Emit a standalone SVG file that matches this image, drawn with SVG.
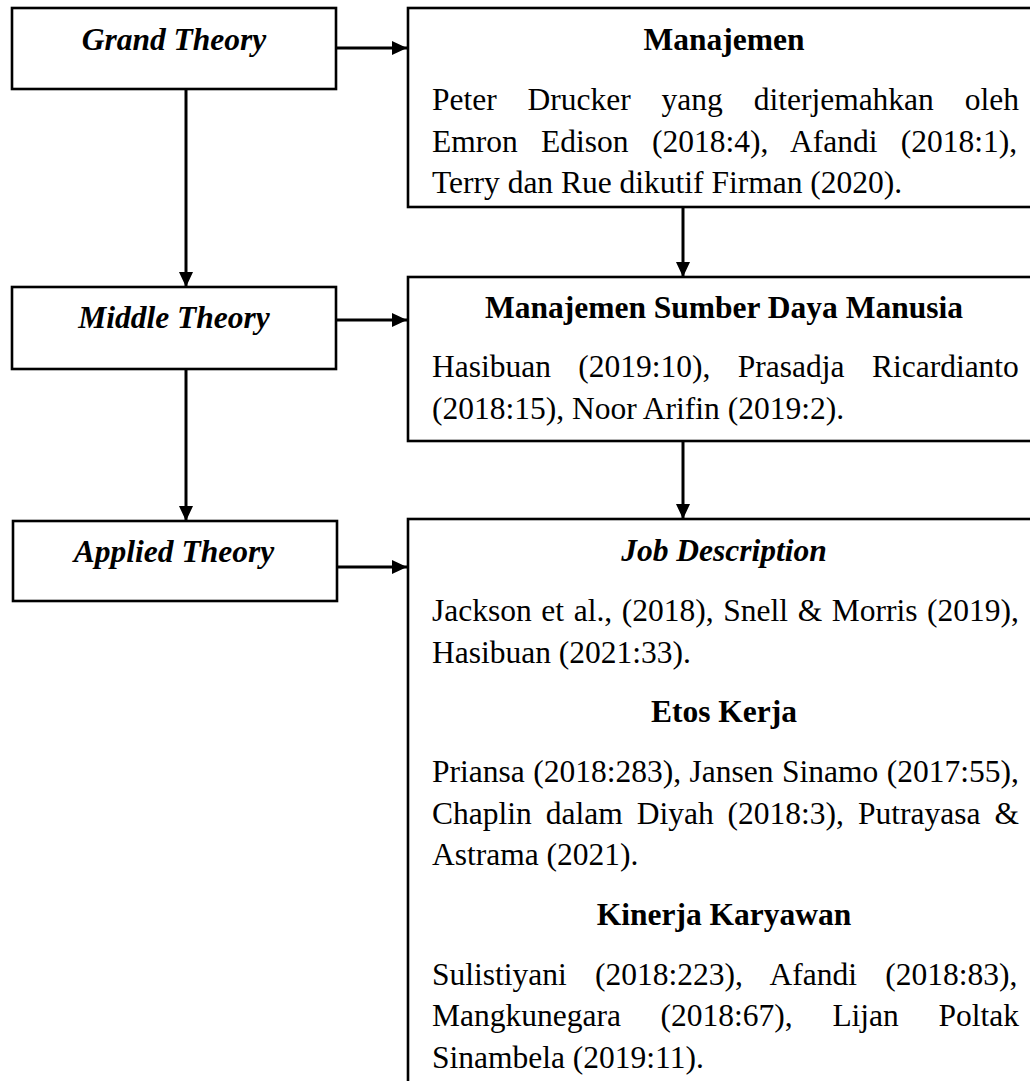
<svg xmlns="http://www.w3.org/2000/svg" width="1030" height="1081" viewBox="0 0 1030 1081">
<style>
.box{fill:#fff;stroke:#000;stroke-width:2.6}
.conn{stroke:#000;stroke-width:3;fill:none}
text{font-family:"Liberation Serif","Times New Roman",serif;font-size:31.5px;fill:#000}
.t{font-weight:bold;text-anchor:middle}
.ti{font-weight:bold;font-style:italic;text-anchor:middle}
</style>
<defs>
<marker id="ah" markerUnits="userSpaceOnUse" markerWidth="15" markerHeight="14" refX="15" refY="7" orient="auto">
<path d="M0,0 L15,7 L0,14 Z" fill="#000"/>
</marker>
</defs>
<rect width="1030" height="1081" fill="#fff"/>
<g id="connectors">
<line class="conn" x1="336" y1="48" x2="407" y2="48" marker-end="url(#ah)"/>
<line class="conn" x1="336" y1="320" x2="407" y2="320" marker-end="url(#ah)"/>
<line class="conn" x1="335" y1="567" x2="407" y2="567" marker-end="url(#ah)"/>
<line class="conn" x1="186" y1="89" x2="186" y2="287" marker-end="url(#ah)"/>
<line class="conn" x1="186" y1="369" x2="186" y2="521" marker-end="url(#ah)"/>
<line class="conn" x1="683" y1="207" x2="683" y2="277" marker-end="url(#ah)"/>
<line class="conn" x1="683" y1="441" x2="683" y2="519" marker-end="url(#ah)"/>
</g>
<g id="grand">
<rect class="box" x="12" y="8" width="324" height="81"/>
<text class="ti" x="174" y="50">Grand Theory</text>
</g>
<g id="middle">
<rect class="box" x="12" y="287" width="324" height="82"/>
<text class="ti" x="174" y="328">Middle Theory</text>
</g>
<g id="applied">
<rect class="box" x="13" y="521" width="324" height="80"/>
<text class="ti" x="174" y="562">Applied Theory</text>
</g>
<g id="manajemen">
<rect class="box" x="408" y="8" width="640" height="199"/>
<text class="t" x="724" y="50">Manajemen</text>
<text x="432" y="110" style="word-spacing:22.97px">Peter Drucker yang diterjemahkan oleh</text>
<text x="432" y="151.5" style="word-spacing:15.5px">Emron Edison (2018:4), Afandi (2018:1),</text>
<text x="432" y="193">Terry dan Rue dikutif Firman (2020).</text>
</g>
<g id="msdm">
<rect class="box" x="408" y="277" width="640" height="164"/>
<text class="t" x="724" y="318">Manajemen Sumber Daya Manusia</text>
<text x="432" y="377" style="word-spacing:19.5px">Hasibuan (2019:10), Prasadja Ricardianto</text>
<text x="432" y="418.5">(2018:15), Noor Arifin (2019:2).</text>
</g>
<g id="applied-theories">
<rect class="box" x="408" y="519" width="640" height="600"/>
<text class="ti" x="724" y="561">Job Description</text>
<text x="432" y="621" style="word-spacing:1.74px">Jackson et al., (2018), Snell &amp; Morris (2019),</text>
<text x="432" y="662.7">Hasibuan (2021:33).</text>
<text class="t" x="724" y="722">Etos Kerja</text>
<text x="432" y="782" style="word-spacing:0.63px">Priansa (2018:283), Jansen Sinamo (2017:55),</text>
<text x="432" y="823.7" style="word-spacing:6.1px">Chaplin dalam Diyah (2018:3), Putrayasa &amp;</text>
<text x="432" y="865.4">Astrama (2021).</text>
<text class="t" x="724" y="924.6">Kinerja Karyawan</text>
<text x="432" y="984.6" style="word-spacing:20.4px">Sulistiyani (2018:223), Afandi (2018:83),</text>
<text x="432" y="1026.3" style="word-spacing:31.8px">Mangkunegara (2018:67), Lijan Poltak</text>
<text x="432" y="1068">Sinambela (2019:11).</text>
</g>
</svg>
